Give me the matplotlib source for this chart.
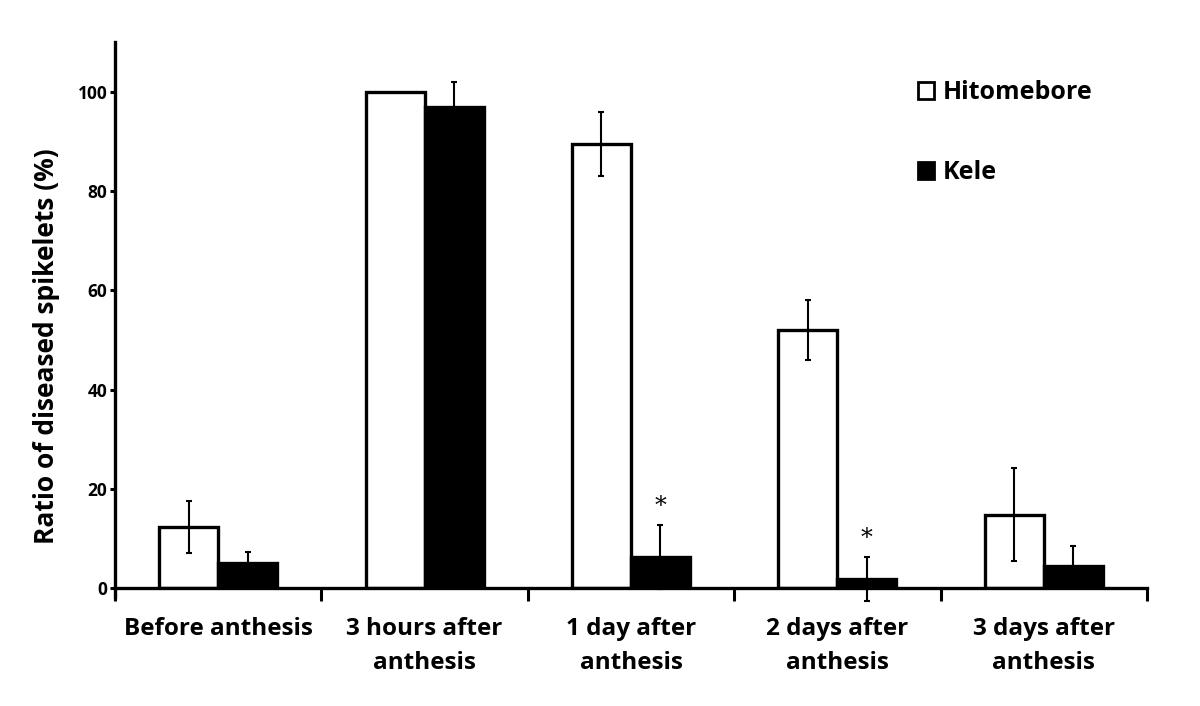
import matplotlib.pyplot as plt
from matplotlib.patches import Patch
import numpy as np

plt.rcParams['font.family'] = ['Open Sans', 'DejaVu Sans']

categories = ["Before anthesis", "3 hours after\nanthesis", "1 day after\nanthesis",
              "2 days after\nanthesis", "3 days after\nanthesis"]
hitomebore = [12.3, 100.0, 89.5, 52.0, 14.8]
hitomebore_err = [5.3, 0.0, 6.5, 6.0, 9.3]
kele = [5.0, 97.0, 6.3, 1.8, 4.5]
kele_err = [2.3, 5.0, 6.4, 4.4, 4.0]
significant = [False, False, True, True, False]

fig = plt.figure(figsize=(12, 7.06), dpi=100)
ax = fig.add_axes([0.0958, 0.167, 0.86, 0.7735])

x = np.arange(len(categories)) + 0.5
w = 0.286

ax.bar(x - w / 2, hitomebore, w, color="white", edgecolor="black", linewidth=2.4,
       zorder=2, label="Hitomebore")
ax.bar(x + w / 2, kele, w, color="black", edgecolor="black", linewidth=2.4,
       zorder=2, label="Kele")

for i in range(len(categories)):
    if hitomebore_err[i] > 0:
        ax.errorbar(x[i] - w / 2, hitomebore[i], yerr=hitomebore_err[i], fmt="none",
                    ecolor="black", elinewidth=1.5, capsize=2.5, capthick=1.5,
                    zorder=3, clip_on=False)
    ax.errorbar(x[i] + w / 2, kele[i], yerr=kele_err[i], fmt="none",
                ecolor="black", elinewidth=1.5, capsize=2.5, capthick=1.5,
                zorder=3, clip_on=False)
    if significant[i]:
        ax.text(x[i] + w / 2, kele[i] + kele_err[i] + 1.5, "*", ha="center",
                va="bottom", fontsize=17, family="DejaVu Serif")

ax.set_xlim(0, 5)
ax.set_ylim(0, 110)
ax.set_yticks([0, 20, 40, 60, 80, 100])
ax.set_xticks(np.arange(0, 6))
ax.set_xticklabels([])
ax.set_xticks(x, minor=True)
ax.set_xticklabels(categories, minor=True, fontsize=17.5, fontweight="bold", linespacing=1.55)
ax.tick_params(axis="x", which="minor", length=0, pad=21)
ax.tick_params(axis="x", which="major", length=9, width=2.2, direction="out")
ax.tick_params(axis="y", length=3.5, width=2.2, direction="out", labelsize=12.5, pad=2)
for lab in ax.get_yticklabels():
    lab.set_fontweight("bold")

for side in ["top", "right"]:
    ax.spines[side].set_visible(False)
for side in ["left", "bottom"]:
    ax.spines[side].set_linewidth(2.4)
ax.spines["left"].set_bounds(-1.8, 110)

ax.set_ylabel("Ratio of diseased spikelets (%)", fontsize=19, fontweight="bold")
ax.yaxis.set_label_coords(-0.053, 0.443)

handles = [Patch(facecolor="white", edgecolor="black", linewidth=2),
           Patch(facecolor="black", edgecolor="black", linewidth=2)]
ax.legend(handles, ["Hitomebore", "Kele"], loc="upper left", bbox_to_anchor=(0.778, 0.93),
          frameon=False, borderpad=0, borderaxespad=0, handlelength=0.65, handleheight=0.65,
          handletextpad=0.35, labelspacing=2.2, prop={"size": 18, "weight": "bold"})

fig.savefig("out.png", dpi=100)
